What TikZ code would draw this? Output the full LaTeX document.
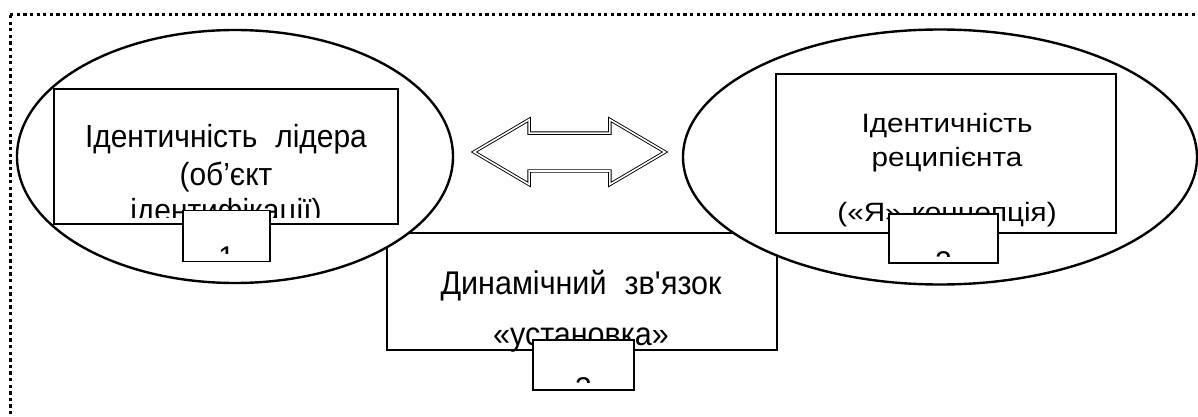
\documentclass[tikz,border=0pt]{standalone}
\usepackage{fontspec}
\setmainfont{Liberation Sans}
\newfontfamily\leaderfont{Liberation Sans}[FakeStretch=0.935]
\newfontfamily\selffont{Liberation Sans}[FakeStretch=1.12]
\newfontfamily\linkfont{Liberation Sans}[FakeStretch=0.93]
\usetikzlibrary{shapes.geometric,shapes.arrows}
\tikzset{
  frameline/.style={line width=3pt,dash pattern=on 3.3pt off 3.3pt},
  bigell/.style={ellipse,draw,fill=white,line width=2.4pt,inner sep=0pt},
  textbox/.style={rectangle,draw,fill=white,line width=1.3pt,inner sep=0pt},
  linetext/.style={inner sep=0pt,anchor=base},
  leadertext/.style={linetext,font=\leaderfont\fontsize{32}{37}\selectfont},
  selftext/.style={linetext,font=\selffont\fontsize{26.5}{34}\selectfont},
  linktext/.style={linetext,font=\linkfont\fontsize{32.8}{35}\selectfont},
  numtext/.style={inner sep=0pt,anchor=north,font=\fontsize{30}{35}\selectfont},
  bothways/.style={double arrow,draw,line width=0.9pt,double=white,double distance=1.6pt,
    double arrow head extend=13.5pt,double arrow tip angle=61,inner xsep=0pt,inner ysep=18.5pt},
}
\begin{document}
\begin{tikzpicture}[x=1pt,y=-1pt]
  \useasboundingbox (0,0) rectangle (1198,417);
  % dotted frame
  \draw[frameline] (10,15) rectangle (1230,450);
  % middle box, under the ellipses
  \node[textbox,minimum width=390pt,minimum height=117pt] (link) at (582,291.5) {};
  \node[linktext] (linktxta) at (581,294) {Динамічний\hspace{18pt}зв\textquotesingle язок};
  \node[linktext] (linktxtb) at (581,345) {«установка»};
  % ellipses
  \node[bigell,minimum width=436pt,minimum height=253pt] (leaderell) at (235,156.5) {};
  \node[bigell,minimum width=514pt,minimum height=255pt] (selfell) at (940,157) {};
  % inner boxes
  \node[textbox,minimum width=344pt,minimum height=135pt] (leader) at (226,156.5) {};
  \node[textbox,minimum width=340pt,minimum height=159pt] (self) at (946,153.5) {};
  \begin{scope}
    \clip ([yshift=7pt]leader.south west) rectangle (leader.north east);
    \node[leadertext] (leadertxta) at (226,147) {Ідентичність\hspace{18pt}лідера};
    \node[leadertext] (leadertxtb) at (226,185) {(об’єкт};
    \node[leadertext] (leadertxtc) at (226,221) {ідентифікації)};
  \end{scope}
  \node[selftext] (selftxta) at (947,132) {Ідентичність};
  \node[selftext] (selftxtb) at (947,166) {реципієнта};
  \node[selftext] (selftxtc) at (947,221) {(«Я»-концепція)};
  % numbered boxes
  \node[textbox,minimum width=87pt,minimum height=51pt] (num1) at (226.5,236) {};
  \node[textbox,minimum width=109pt,minimum height=49pt] (num2) at (943.5,238.5) {};
  \node[textbox,minimum width=101pt,minimum height=50pt] (num3) at (583.5,365) {};
  \foreach \b/\d/\t/\c in {num1/1/15/9,num2/2/12/7,num3/3/13/8}{
    \begin{scope}
      \clip ([yshift=\c pt]\b.south west) rectangle (\b.north east);
      \node[numtext] (\b txt) at ([yshift=\t pt]\b.south) {\d};
    \end{scope}
  }
  % two-way arrow
  \node[bothways,minimum width=64pt,minimum height=191pt] (mutual) at (569.5,152) {};
\end{tikzpicture}
\end{document}
